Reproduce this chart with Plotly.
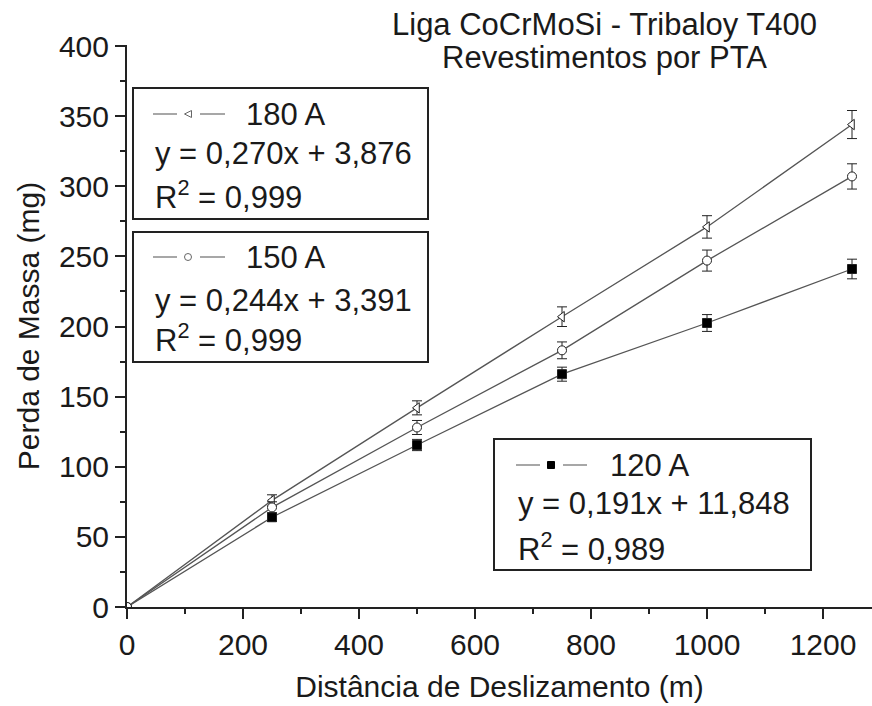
import plotly.graph_objects as go

W, H = 872, 706
ML, MR, MT, MB = 127, 0, 45, 99

distance = [0, 250, 500, 750, 1000, 1250]
loss_180 = [0, 76, 142, 207, 271, 344]
err_180 = [0, 4, 5, 7, 8, 10]
loss_150 = [0, 71, 128, 183, 247, 307]
err_150 = [0, 4, 5, 6, 7.5, 9]
loss_120 = [0, 64, 115.5, 166, 202.5, 241]
err_120 = [0, 3, 4, 5, 6, 7]

series_names = ["180 A", "150 A", "120 A"]
equations = ["y = 0,270x + 3,876", "y = 0,244x + 3,391", "y = 0,191x + 11,848"]
r2_values = ["0,999", "0,999", "0,989"]

x_ticks = [0, 200, 400, 600, 800, 1000, 1200]
y_ticks = [0, 50, 100, 150, 200, 250, 300, 350, 400]

FONT = "Liberation Sans, Arial, sans-serif"
LINE_C = "#555555"
TXT = "#1a1a1a"

fig = go.Figure()

def add_series(y, e, symbol, name, fill):
    n = len(y)
    symbols = ["circle"] + [symbol] * (n - 1)
    colors = ["white"] + [fill] * (n - 1)
    fig.add_trace(go.Scatter(
        x=distance, y=y, mode="lines+markers", name=name,
        line=dict(color=LINE_C, width=1.3),
        marker=dict(symbol=symbols, size=9, color=colors, opacity=1,
                    line=dict(color="#222222", width=1)),
        error_y=dict(type="data", array=e, visible=True, color="#222222", thickness=1, width=5),
        showlegend=False,
    ))

add_series(loss_180, err_180, "triangle-left", series_names[0], "white")
add_series(loss_150, err_150, "circle", series_names[1], "white")
add_series(loss_120, err_120, "square", series_names[2], "black")

pw = W - ML - MR
ph = H - MT - MB

def px(x):
    return (x - ML) / pw

def py(y):
    return (H - MB - y) / ph

shapes = []
annotations = []

boxes = [
    dict(x0=133, x1=428, y0=88, y1=219, sym="tri", ly=114, lx=(153, 177, 188, 200, 225), tx=244, ex=155, ey=153, ry=195),
    dict(x0=133, x1=428, y0=232, y1=362, sym="circ", ly=257, lx=(153, 177, 188, 200, 225), tx=244, ex=155, ey=300, ry=338),
    dict(x0=494, x1=811, y0=439, y1=570, sym="sq", ly=465, lx=(516, 540, 551, 563, 587), tx=608, ex=518, ey=503, ry=547),
]

LEG_FS = 31

for i, b in enumerate(boxes):
    shapes.append(dict(type="rect", xref="paper", yref="paper",
                       x0=px(b["x0"]), x1=px(b["x1"]), y0=py(b["y1"]), y1=py(b["y0"]),
                       line=dict(color="#222222", width=2), fillcolor="white", layer="above"))
    a, bb, c, d, e = b["lx"]
    ly = b["ly"]
    shapes.append(dict(type="line", xref="paper", yref="paper", x0=px(a), x1=px(bb), y0=py(ly), y1=py(ly),
                       line=dict(color="#777777", width=1.3), layer="above"))
    shapes.append(dict(type="line", xref="paper", yref="paper", x0=px(d), x1=px(e), y0=py(ly), y1=py(ly),
                       line=dict(color="#777777", width=1.3), layer="above"))
    s = 3.5
    if b["sym"] == "tri":
        path = f"M {px(c - s)} {py(ly)} L {px(c + s)} {py(ly - s)} L {px(c + s)} {py(ly + s)} Z"
        shapes.append(dict(type="path", xref="paper", yref="paper", path=path,
                           line=dict(color="#666666", width=1), fillcolor="white", layer="above"))
    elif b["sym"] == "circ":
        shapes.append(dict(type="circle", xref="paper", yref="paper", x0=px(c - s), x1=px(c + s),
                           y0=py(ly + s), y1=py(ly - s), line=dict(color="#666666", width=1),
                           fillcolor="white", layer="above"))
    else:
        shapes.append(dict(type="rect", xref="paper", yref="paper", x0=px(c - s), x1=px(c + s),
                           y0=py(ly + s), y1=py(ly - s), line=dict(color="black", width=1),
                           fillcolor="black", layer="above"))
    annotations.append(dict(xref="paper", yref="paper", x=px(b["tx"]), y=py(ly), xanchor="left", yanchor="middle",
                            text=series_names[i], showarrow=False, font=dict(size=LEG_FS, color=TXT, family=FONT)))
    annotations.append(dict(xref="paper", yref="paper", x=px(b["ex"] - 2), y=py(b["ey"]), xanchor="left", yanchor="middle",
                            text=equations[i], showarrow=False, font=dict(size=LEG_FS, color=TXT, family=FONT)))
    annotations.append(dict(xref="paper", yref="paper", x=px(b["ex"] - 2), y=py(b["ry"]), xanchor="left", yanchor="middle",
                            text="R<sup>2</sup> = " + r2_values[i], showarrow=False,
                            font=dict(size=LEG_FS, color=TXT, family=FONT)))

annotations.append(dict(xref="paper", yref="paper", x=px(604), y=py(24), xanchor="center", yanchor="middle",
                        text="Liga CoCrMoSi - Tribaloy T400", showarrow=False,
                        font=dict(size=31, color=TXT, family=FONT)))
annotations.append(dict(xref="paper", yref="paper", x=px(604), y=py(58), xanchor="center", yanchor="middle",
                        text="Revestimentos por PTA", showarrow=False,
                        font=dict(size=31, color=TXT, family=FONT)))

fig.update_layout(
    width=W, height=H,
    margin=dict(l=ML, r=MR, t=MT, b=MB, autoexpand=False),
    paper_bgcolor="white", plot_bgcolor="white",
    font=dict(family=FONT, size=30, color=TXT),
    shapes=shapes, annotations=annotations,
    xaxis=dict(range=[0, pw / 0.58], tickvals=x_ticks, ticktext=[str(v) for v in x_ticks],
               ticks="outside", ticklen=10, tickwidth=2, tickcolor="#222222",
               minor=dict(dtick=100, tick0=0, ticks="outside", ticklen=5, tickwidth=2, tickcolor="#222222"),
               showline=True, linecolor="#222222", linewidth=2, showgrid=False, zeroline=False,
               title=dict(text="Distância de Deslizamento (m)", font=dict(size=30), standoff=16),
               tickfont=dict(size=30)),
    yaxis=dict(range=[0, ph / 1.4025], tickvals=y_ticks, ticktext=[str(v) for v in y_ticks],
               ticks="outside", ticklen=10, tickwidth=2, tickcolor="#222222",
               minor=dict(dtick=25, tick0=0, ticks="outside", ticklen=5, tickwidth=2, tickcolor="#222222"),
               showline=True, linecolor="#222222", linewidth=2, showgrid=False, zeroline=False,
               title=dict(text="Perda de Massa (mg)", font=dict(size=30), standoff=10),
               tickfont=dict(size=30)),
)

fig.write_html("out.html")
